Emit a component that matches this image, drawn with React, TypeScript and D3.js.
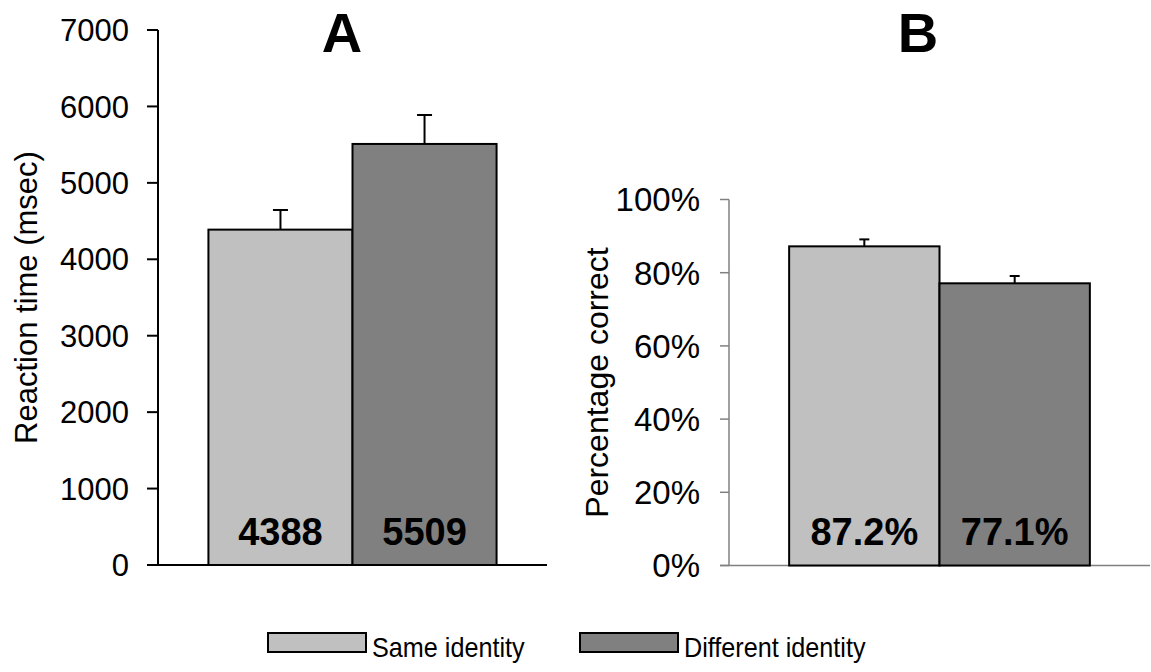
import React from "react";
import * as d3 from "d3";

// conditions
const conditions = ["Same identity", "Different identity"];
const barColors = ["#c0c0c0", "#808080"];

// panel A: reaction time (msec)
const rtMeans = [4388, 5509];
const rtErrors = [257, 379];
const rtLabels = ["4388", "5509"];
const rtTicks = [0, 1000, 2000, 3000, 4000, 5000, 6000, 7000];

// panel B: percentage correct
const accMeans = [87.2, 77.1];
const accErrors = [1.9, 2.0];
const accLabels = ["87.2%", "77.1%"];
const accTicks = [0, 20, 40, 60, 80, 100];

const W = 1151;
const H = 672;
const font = "'Liberation Sans', Arial, sans-serif";

function Panel({ title, titleX, left, right, top, bottom, yMax, ticks, fmt, means, errors, labels,
  axisColor, axisWidth, tickLen, capW, yLabel, yLabelX, pad, tickSize, labelSize }) {
  const y = d3.scaleLinear().domain([0, yMax]).range([bottom, top]);
  const x = d3.scaleBand().domain(conditions).range([left, right]).paddingInner(0).paddingOuter(pad);
  const bw = x.bandwidth();
  return (
    <g>
      <text x={titleX} y={52} textAnchor="middle" fontFamily={font} fontWeight={700} fontSize={56}>{title}</text>
      {/* y axis */}
      <line x1={left} x2={left} y1={y(yMax)} y2={y(0)} stroke={axisColor} strokeWidth={axisWidth} />
      {ticks.map((t) => (
        <g key={t}>
          <line x1={left - tickLen} x2={left} y1={y(t)} y2={y(t)} stroke={axisColor} strokeWidth={axisWidth} />
          <text x={left - 29} y={y(t)} dy="0.36em" textAnchor="end" fontFamily={font} fontSize={tickSize}>{fmt(t)}</text>
        </g>
      ))}
      {/* x axis */}
      <line x1={left - tickLen} x2={right} y1={y(0)} y2={y(0)} stroke={axisColor} strokeWidth={axisWidth} />
      <text transform={`translate(${yLabelX},${(y(yMax) + y(0)) / 2}) rotate(-90)`} textAnchor="middle"
        fontFamily={font} fontSize={labelSize}>{yLabel}</text>
      {conditions.map((c, i) => {
        const cx = x(c) + bw / 2;
        const top2 = y(means[i] + errors[i]);
        return (
          <g key={c}>
            <line x1={cx} x2={cx} y1={y(means[i])} y2={top2} stroke="#000" strokeWidth={2} />
            <line x1={cx - capW / 2} x2={cx + capW / 2} y1={top2} y2={top2} stroke="#000" strokeWidth={2} />
            <rect x={x(c)} y={y(means[i])} width={bw} height={y(0) - y(means[i])} fill={barColors[i]} stroke="#000" strokeWidth={2} />
            <text x={cx} y={545} textAnchor="middle" fontFamily={font} fontWeight={700} fontSize={38}>{labels[i]}</text>
          </g>
        );
      })}
    </g>
  );
}

export default function App() {
  const legendX = [268, 580];
  return (
    <svg width={W} height={H} style={{ display: "block", position: "absolute", left: 0, top: 0, background: "#fff" }}>
      <Panel title="A" titleX={342} left={158} right={547} top={30} bottom={565} yMax={7000} ticks={rtTicks}
        fmt={(d) => String(d)} means={rtMeans} errors={rtErrors} labels={rtLabels} pad={0.35}
        tickSize={31} labelSize={31}
        axisColor="#000" axisWidth={2} tickLen={11} capW={15} yLabel="Reaction time (msec)" yLabelX={37} />
      <Panel title="B" titleX={918} left={729} right={1150} top={199.5} bottom={565.5} yMax={100} ticks={accTicks}
        fmt={(d) => `${d}%`} means={accMeans} errors={accErrors} labels={accLabels} pad={0.4}
        tickSize={33} labelSize={32}
        axisColor="#808080" axisWidth={1.5} tickLen={9} capW={10} yLabel="Percentage correct" yLabelX={608} />
      {conditions.map((c, i) => (
        <g key={c}>
          <rect x={legendX[i]} y={633} width={98} height={19} fill={barColors[i]} stroke="#000" strokeWidth={2} />
          <text transform={`translate(${legendX[i] + 104},657) scale(0.9,1)`} fontFamily={font} fontSize={28}>{c}</text>
        </g>
      ))}
    </svg>
  );
}
